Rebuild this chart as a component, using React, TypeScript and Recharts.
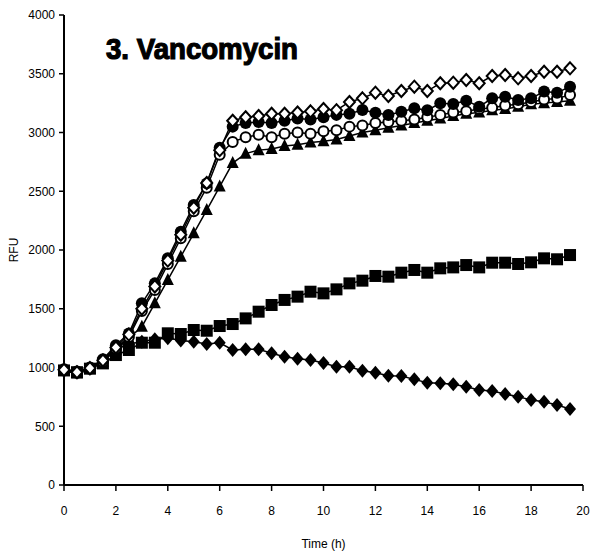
import React from "react";
import { LineChart, Line, XAxis, YAxis, Customized } from "recharts";

const times = [
  0, 0.5, 1, 1.5, 2, 2.5, 3, 3.5, 4, 4.5, 5, 5.5, 6, 6.5, 7, 7.5, 8, 8.5, 9, 9.5,
  10, 10.5, 11, 11.5, 12, 12.5, 13, 13.5, 14, 14.5, 15, 15.5, 16, 16.5, 17, 17.5, 18, 18.5, 19, 19.5,
];

const filledDiamond = [
  980, 960, 990, 1060, 1160, 1200, 1220, 1240, 1250, 1230, 1220, 1200, 1210, 1150, 1155, 1155, 1121, 1092, 1075, 1064,
  1038, 1007, 1007, 973, 956, 930, 928, 899, 871, 865, 857, 837, 809, 800, 774, 752, 723, 709, 681, 647,
];

const filledSquare = [
  975, 960, 990, 1035, 1106, 1149, 1211, 1211, 1291, 1285, 1319, 1313, 1353, 1370, 1418, 1475, 1532, 1575, 1603, 1645,
  1631, 1665, 1716, 1739, 1779, 1773, 1807, 1830, 1807, 1844, 1852, 1872, 1852, 1892, 1892, 1881, 1895, 1929, 1921, 1957,
];

const filledTriangle = [
  970, 950, 990, 1050, 1150, 1250, 1347, 1546, 1745, 1943, 2142, 2340, 2540, 2740, 2820, 2850, 2860, 2885, 2895, 2915,
  2925, 2940, 2970, 3000, 3020, 3040, 3060, 3080, 3100, 3120, 3140, 3160, 3170, 3190, 3200, 3220, 3240, 3250, 3260, 3270,
];

const openCircle = [
  975, 955, 990, 1050, 1160, 1260, 1480, 1660, 1880, 2100, 2330, 2530, 2810, 2920, 2960, 2980, 2960, 2990, 3000, 2990,
  3010, 3020, 3050, 3060, 3080, 3090, 3100, 3110, 3130, 3150, 3170, 3180, 3200, 3210, 3230, 3240, 3260, 3280, 3290, 3320,
];

const filledCircle = [
  985, 965, 1000, 1070, 1190, 1290, 1546, 1716, 1929, 2156, 2383, 2567, 2870, 3050, 3080, 3090, 3080, 3100, 3120, 3110,
  3130, 3150, 3160, 3191, 3169, 3149, 3177, 3206, 3190, 3248, 3242, 3271, 3220, 3291, 3305, 3277, 3291, 3348, 3339, 3390,
];

const openDiamond = [
  980, 960, 995, 1060, 1170, 1280, 1500, 1690, 1910, 2130, 2360, 2570, 2850, 3100, 3130, 3140, 3160, 3160, 3170, 3180,
  3200, 3190, 3260, 3291, 3339, 3311, 3353, 3390, 3353, 3419, 3424, 3447, 3419, 3481, 3489, 3461, 3481, 3517, 3517, 3546,
];

const xTicks = [0, 2, 4, 6, 8, 10, 12, 14, 16, 18, 20];
const yTicks = [0, 500, 1000, 1500, 2000, 2500, 3000, 3500, 4000];

const data = times.map((t, i) => ({
  t,
  filledDiamond: filledDiamond[i],
  filledSquare: filledSquare[i],
  filledTriangle: filledTriangle[i],
  openCircle: openCircle[i],
  filledCircle: filledCircle[i],
  openDiamond: openDiamond[i],
}));

const FONT = "'Liberation Sans', Arial, sans-serif";

type DotProps = { cx?: number; cy?: number; index?: number };

const DiamondDot = ({ cx = 0, cy = 0, index }: DotProps) => (
  <path key={index} d={`M${cx},${cy - 7}L${cx + 6},${cy}L${cx},${cy + 7}L${cx - 6},${cy}Z`} fill="#000" />
);
const SquareDot = ({ cx = 0, cy = 0, index }: DotProps) => (
  <rect key={index} x={cx - 6} y={cy - 6} width={12} height={12} fill="#000" />
);
const TriangleDot = ({ cx = 0, cy = 0, index }: DotProps) => (
  <path key={index} d={`M${cx},${cy - 7}L${cx + 6},${cy + 5}L${cx - 6},${cy + 5}Z`} fill="#000" />
);
const CircleDot = ({ cx = 0, cy = 0, index }: DotProps) => (
  <circle key={index} cx={cx} cy={cy} r={6} fill="#000" />
);
const OpenCircleDot = ({ cx = 0, cy = 0, index }: DotProps) => (
  <circle key={index} cx={cx} cy={cy} r={5} fill="#fff" stroke="#000" strokeWidth={2} />
);
const OpenDiamondDot = ({ cx = 0, cy = 0, index }: DotProps) => (
  <path
    key={index}
    d={`M${cx},${cy - 6}L${cx + 5.5},${cy}L${cx},${cy + 6}L${cx - 5.5},${cy}Z`}
    fill="#fff"
    stroke="#000"
    strokeWidth={2}
  />
);

// heavy title (the original uses a black-weight face)
const Title = () => (
  <text
    x={106}
    y={59}
    fontFamily={FONT}
    fontWeight="bold"
    fontSize={29}
    textLength={192}
    lengthAdjust="spacingAndGlyphs"
    fill="#000"
    stroke="#000"
    strokeWidth={1.2}
  >
    3. Vancomycin
  </text>
);

const tickStyle = { fill: "#000", fontSize: 12, fontFamily: FONT };

export default function App() {
  return (
    <div style={{ position: "absolute", left: 0, top: 0, background: "#fff" }}>
      <LineChart width={591} height={557} data={data} margin={{ top: 15, right: 8, bottom: 0, left: 0 }}>
        <XAxis
          dataKey="t"
          type="number"
          domain={[0, 20]}
          ticks={xTicks}
          height={72}
          tick={tickStyle}
          tickSize={6}
          tickMargin={15}
          axisLine={{ stroke: "#000", strokeWidth: 2 }}
          tickLine={{ stroke: "#000", strokeWidth: 1.5 }}
          label={{ value: "Time (h)", position: "insideBottom", offset: 9, fill: "#000", fontSize: 12, fontFamily: FONT }}
        />
        <YAxis
          type="number"
          domain={[0, 4000]}
          ticks={yTicks}
          width={64}
          tick={tickStyle}
          tickSize={5}
          tickMargin={4}
          axisLine={{ stroke: "#000", strokeWidth: 2 }}
          tickLine={{ stroke: "#000", strokeWidth: 1.5 }}
          label={{
            value: "RFU",
            angle: -90,
            position: "insideLeft",
            offset: 14,
            fill: "#000",
            fontSize: 12,
            fontFamily: FONT,
            style: { textAnchor: "middle" },
          }}
        />
        <Line dataKey="filledDiamond" stroke="#000" strokeWidth={1.5} dot={DiamondDot} isAnimationActive={false} />
        <Line dataKey="filledSquare" stroke="#000" strokeWidth={1.5} dot={SquareDot} isAnimationActive={false} />
        <Line dataKey="filledTriangle" stroke="#000" strokeWidth={1.5} dot={TriangleDot} isAnimationActive={false} />
        <Line dataKey="openCircle" stroke="#000" strokeWidth={1.5} dot={OpenCircleDot} isAnimationActive={false} />
        <Line dataKey="filledCircle" stroke="#000" strokeWidth={1.5} dot={CircleDot} isAnimationActive={false} />
        <Line dataKey="openDiamond" stroke="#000" strokeWidth={1.5} dot={OpenDiamondDot} isAnimationActive={false} />
        <Customized component={Title} />
      </LineChart>
    </div>
  );
}
